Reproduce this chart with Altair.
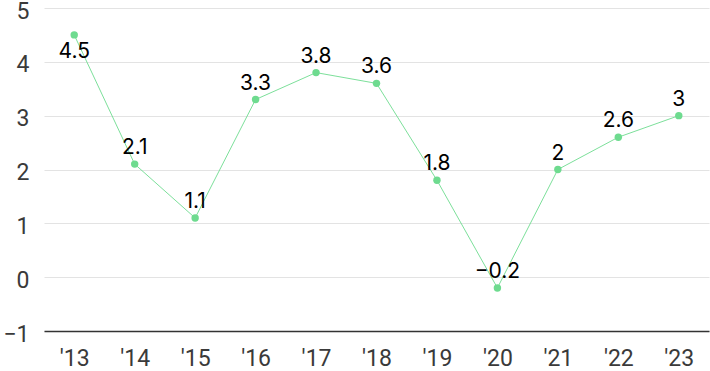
import altair as alt
import pandas as pd

years = ["'13", "'14", "'15", "'16", "'17", "'18", "'19", "'20", "'21", "'22", "'23"]
values = [4.5, 2.1, 1.1, 3.3, 3.8, 3.6, 1.8, -0.2, 2, 2.6, 3]

df = pd.DataFrame({"year": years, "value": values})
df["below"] = [v == max(values) for v in values]

GREEN = "#6edb8f"

x = alt.X("year:N", sort=years, scale=alt.Scale(padding=0.5),
          axis=alt.Axis(title=None, labelAngle=0, ticks=False, domain=True, domainColor="#333333",
                        domainWidth=1.5, grid=False, labelFont="Roboto", labelFontSize=23,
                        labelColor="#3a3a3a", labelPadding=16))
y = alt.Y("value:Q", scale=alt.Scale(domain=[-1, 5], nice=False, zero=False),
          axis=alt.Axis(title=None, values=[-1, 0, 1, 2, 3, 4, 5], ticks=False, domain=False,
                        gridColor="#e3e3e3", gridWidth=1, labelFont="Roboto", labelFontSize=23,
                        labelColor="#3a3a3a", labelPadding=15, labelBaseline="middle", labelOffset=3))

base = alt.Chart(df).encode(x=x, y=y)

line = base.mark_line(color=GREEN, strokeWidth=1, opacity=0.9)
pts = base.mark_point(filled=True, color=GREEN, size=55, opacity=1)
txt_above = base.transform_filter("!datum.below").mark_text(
    font="Inter", fontSize=21, color="#000000", dy=-16, baseline="middle").encode(
    text=alt.Text("value:Q", format="~g"))
txt_below = base.transform_filter("datum.below").mark_text(
    font="Inter", fontSize=21, color="#000000", dy=17, baseline="middle").encode(
    text=alt.Text("value:Q", format="~g"))

chart = alt.layer(line, pts, txt_above, txt_below).properties(
    width=665, height=323,
    autosize=alt.AutoSizeParams(type="none"),
    padding={"left": 44, "top": 8, "right": 1, "bottom": 40},
).configure(background="white").configure_view(stroke=None)

chart.save("out.html", embed_options={"renderer": "svg", "actions": False})
